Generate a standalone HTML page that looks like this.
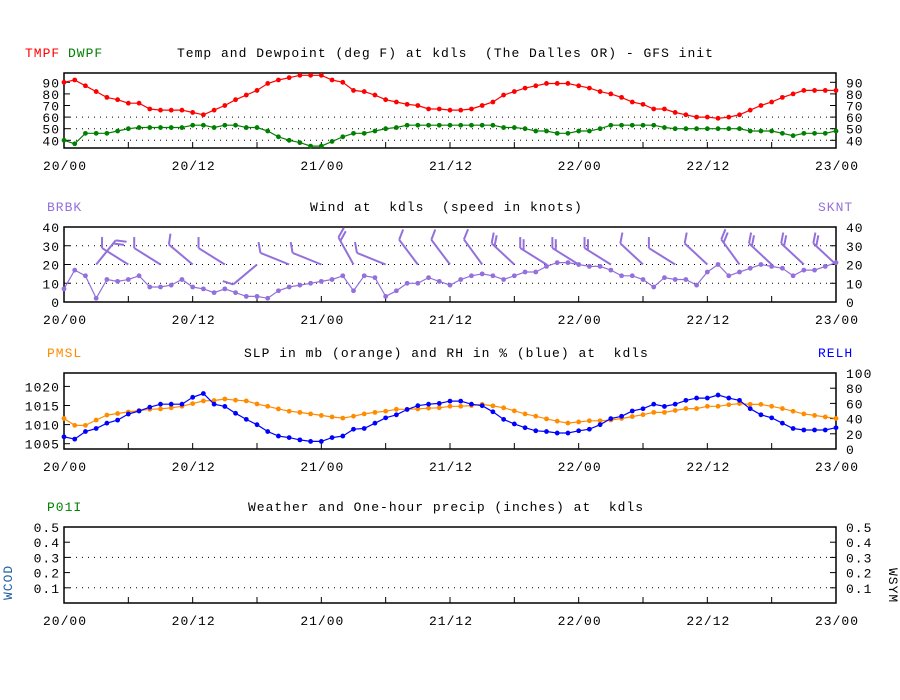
<!DOCTYPE html>
<html><head><meta charset="utf-8"><style>
html,body{margin:0;padding:0;background:#fff;}
svg{display:block;font-family:"Liberation Mono",monospace;font-size:13px;letter-spacing:1px;}
text{white-space:pre;}
</style></head><body>
<svg id="chart" width="900" height="700" viewBox="0 0 900 700" xmlns="http://www.w3.org/2000/svg">
<rect width="900" height="700" fill="#fff"/>
<g id="static">
<text x="25" y="57" fill="#ff0000">TMPF</text>
<text x="68" y="57" fill="#008000">DWPF</text>
<text x="177" y="57" fill="#000">Temp and Dewpoint (deg F) at kdls  (The Dalles OR) - GFS init</text>
<text x="47" y="211" fill="#9370db">BRBK</text>
<text x="818" y="211" fill="#9370db">SKNT</text>
<text x="310" y="211" fill="#000">Wind at  kdls  (speed in knots)</text>
<text x="47" y="357" fill="#ff8c00">PMSL</text>
<text x="818" y="357" fill="#0000ff">RELH</text>
<text x="244" y="357" fill="#000">SLP in mb (orange) and RH in % (blue) at  kdls</text>
<text x="47" y="511" fill="#008000">P01I</text>
<text x="248" y="511" fill="#000">Weather and One-hour precip (inches) at  kdls</text>
<text transform="translate(12,600) rotate(-90)" fill="#1f5fa0">WCOD</text>
<text transform="translate(889,568) rotate(90)" fill="#000">WSYM</text>
</g>
<g id="plots"></g>
</svg>
<script>
var hours = [];
for (var i = 0; i <= 72; i++) hours.push(i);
var xTickLabels = ["20/00","20/12","21/00","21/12","22/00","22/12","23/00"];
var tmpf = [90,92,87,82,77,75,72,72,67,66,66,66,64,62,66,70,75,79,83,89,92,94,96,96,96,92,90,83,82,79,75,73,71,70,67,
 67,66,66,67,70,73,79,82,85,87,89,89,89,87,85,82,80,77,73,71,67,67,64,62,60,60,59,60,62,66,70,73,77,80,83,83,83,83];
var dwpf = [40,37,46,46,46,48,50,51,51,51,51,51,53,53,51,53,53,51,51,48,43,40,38,35,35,39,43,46,46,48,50,51,53,53,53,
 53,53,53,53,53,53,51,51,50,48,48,46,46,48,48,50,53,53,53,53,53,51,50,50,50,50,50,50,50,48,48,48,46,44,46,46,46,48];
var sknt = [7,17,14,2,12,11,12,14,8,8,9,12,8,7,5,7,5,3,3,2,6,8,9,10,11,12,14,6,14,13,3,6,10,10,13,
 11,9,12,14,15,14,12,14,16,16,19,21,21,20,19,19,17,14,14,12,8,13,12,12,9,16,20,14,16,18,20,19,18,14,17,17,19,21];
var barbHours = [3,6,9,12,15,18,21,24,27,30,33,36,39,42,45,48,51,54,57,60,63,66,69,72];
var barbDir = [39,302,302,310,302,230,292,292,331,292,323,323,324,313,302,302,302,313,302,313,324,313,313,313];
var barbFeathers = [2,1,1,1,1,1,1,1,2,1,1,1,1,2,2,2,2,1,1,1,2,2,2,2];
var pmsl = [1011.6,1009.8,1009.8,1011.2,1012.5,1012.9,1013.3,1013.7,1014.0,1014.1,1014.4,1014.8,1015.5,1016.2,1016.3,1016.7,1016.4,1016.2,1015.4,1014.8,1014.1,1013.5,1013.2,1012.8,1012.4,1012.0,1011.7,1012.2,1012.8,1013.2,1013.5,1014.0,1014.0,1014.1,1014.3,
 1014.4,1014.8,1014.8,1015.0,1015.3,1014.9,1014.4,1013.6,1012.8,1012.2,1011.5,1010.9,1010.4,1010.7,1011.0,1011.0,1011.2,1011.6,1012.1,1012.6,1013.2,1013.2,1013.7,1014.2,1014.2,1014.8,1014.8,1015.2,1015.5,1015.3,1015.3,1014.8,1014.2,1013.5,1012.8,1012.4,1012.0,1011.6];
var relh = [16,13,23,27,34,38,46,50,55,59,59,59,68,73,59,56,47,39,32,23,17,15,12,10,10,15,17,26,27,34,41,45,52,57,59,
 60,63,63,59,57,49,39,33,28,24,23,21,21,24,26,32,40,43,50,53,59,56,59,64,67,67,71,67,64,53,45,41,34,27,25,25,25,28];
var tempTicks = [40,50,60,70,80,90];
var windTicks = [0,10,20,30,40];
var presTicks = [1005,1010,1015,1020];
var rhTicks = [0,20,40,60,80,100];
var precipTicks = [0.1,0.2,0.3,0.4,0.5];

var NS = "http://www.w3.org/2000/svg";
var g = document.getElementById("plots");
var X0 = 64, X1 = 836;
function xs(h){ return X0 + h * (X1 - X0) / 72; }
function yTemp(v){ return 140.3 - (v - 40) * 1.16; }
function yWind(v){ return 302 - v * 1.875; }
function yPres(v){ return 443.7 - (v - 1005) * 3.82; }
function yRh(v){ return 449 - v * 0.76; }
function yPrec(v){ return 603 - v * 152; }
function mk(tag, attrs, parent){
  var e = document.createElementNS(NS, tag);
  for (var k in attrs) e.setAttribute(k, attrs[k]);
  (parent || g).appendChild(e);
  return e;
}
function panel(name, top, bot){
  var r = mk("rect", {x:X0, y:top, width:X1-X0, height:bot-top, fill:"none", stroke:"#000", "stroke-width":1.5});
  
  
  for (var h = 6; h < 72; h += 6){
    var t = mk("line", {x1:xs(h), x2:xs(h), y1:bot, y2:bot-6, stroke:"#000", "stroke-width":1});
    
    
  }
  for (var i = 0; i < xTickLabels.length; i++){
    var tx = mk("text", {x:xs(i*12)+1, y:bot+22, "text-anchor":"middle", fill:"#000"});
    tx.textContent = xTickLabels[i];
    
    
  }
}
function yAxis(ticks, fy, side, fmt, grid, top, bot){
  for (var i = 0; i < ticks.length; i++){
    var y = fy(ticks[i]);
    var isEdge = Math.abs(y - top) < 2 || Math.abs(y - bot) < 2;
    var tx = mk("text", {x: side === "L" ? 60 : 846, y: y + 5, "text-anchor": side === "L" ? "end" : "start", fill:"#000"});
    tx.textContent = fmt ? fmt(ticks[i]) : String(ticks[i]);
    
    
    if (!isEdge){
      var tl = mk("line", {x1: side === "L" ? X0 : X1, x2: side === "L" ? X0 + 6 : X1 - 6, y1:y, y2:y, stroke:"#000"});
      
      
    }
    if (grid && grid.indexOf(ticks[i]) >= 0){
      var gl = mk("line", {x1:X0, x2:X1, y1:y, y2:y, stroke:"#000", "stroke-width":1, "stroke-dasharray":"1,5"});
      
      
    }
  }
}
function series(name, vals, fy, color){
  var pts = [];
  for (var i = 0; i < vals.length; i++) pts.push(xs(hours[i]).toFixed(1) + "," + fy(vals[i]).toFixed(1));
  var pl = mk("polyline", {points:pts.join(" "), fill:"none", stroke:color, "stroke-width":1.2});
  
  
  for (var j = 0; j < vals.length; j++){
    var c = mk("circle", {cx:xs(hours[j]), cy:fy(vals[j]), r:2.4, fill:color});
    
    
  }
}

panel("temp-panel", 73, 148);
yAxis(tempTicks, yTemp, "L", null, [40,50,60], 73, 148);
yAxis(tempTicks, yTemp, "R", null, null, 73, 148);
series("tmpf", tmpf, yTemp, "#ff0000");
series("dwpf", dwpf, yTemp, "#008000");

panel("wind-panel", 227, 302);
yAxis(windTicks, yWind, "L", null, [10,20,30], 227, 302);
yAxis(windTicks, yWind, "R", null, null, 227, 302);
series("sknt", sknt, yWind, "#9370db");
for (var b = 0; b < barbHours.length; b++){
  var bx = xs(barbHours[b]), by = yWind(20);
  var a = (barbDir[b] - 90) * Math.PI / 180;
  var dx = Math.cos(a), dy = Math.sin(a);
  var L = 31;
  var tx = bx + dx * L, ty = by + dy * L;
  var bg = mk("g", {stroke:"#9370db", "stroke-width":2, fill:"none"});
  
  
  mk("line", {x1:bx, y1:by, x2:tx, y2:ty}, bg);
  var fa = a + 58 * Math.PI / 180;
  for (var f = 0; f < barbFeathers[b]; f++){
    var sx = tx - dx * f * 4, sy = ty - dy * f * 4;
    mk("line", {x1:sx, y1:sy, x2:sx + Math.cos(fa) * 11, y2:sy + Math.sin(fa) * 11}, bg);
  }
}

panel("slp-panel", 373, 449);
yAxis(presTicks, yPres, "L", null, null, 373, 449);
yAxis(rhTicks, yRh, "R", null, null, 373, 449);
series("pmsl", pmsl, yPres, "#ff8c00");
series("relh", relh, yRh, "#0000ff");

panel("precip-panel", 527, 603);
yAxis(precipTicks, yPrec, "L", function(v){ return v.toFixed(1); }, [0.1,0.3], 527, 603);
yAxis(precipTicks, yPrec, "R", function(v){ return v.toFixed(1); }, null, 527, 603);
</script>
</body></html>
